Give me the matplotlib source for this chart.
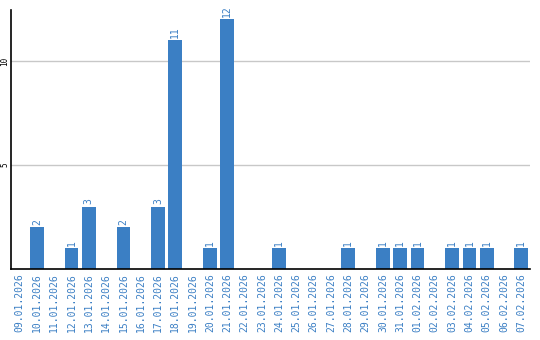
import matplotlib
matplotlib.use("Agg")
import matplotlib.pyplot as plt

dates = ["09.01.2026","10.01.2026","11.01.2026","12.01.2026","13.01.2026","14.01.2026",
         "15.01.2026","16.01.2026","17.01.2026","18.01.2026","19.01.2026","20.01.2026",
         "21.01.2026","22.01.2026","23.01.2026","24.01.2026","25.01.2026","26.01.2026",
         "27.01.2026","28.01.2026","29.01.2026","30.01.2026","31.01.2026","01.02.2026",
         "02.02.2026","03.02.2026","04.02.2026","05.02.2026","06.02.2026","07.02.2026"]
values = [0,2,0,1,3,0,2,0,3,11,0,1,12,0,0,1,0,0,0,1,0,1,1,1,0,1,1,1,0,1]

blue = "#3b7fc4"
fig = plt.figure(figsize=(5.4, 3.4), dpi=100)
ax = fig.add_axes([11/540, 71/340, 519/540, 259/340])
x = list(range(len(dates)))
ax.bar(x, values, width=0.8, color=blue, zorder=2)
for xi, v in zip(x, values):
    if v > 0:
        ax.text(xi, v + 0.12, str(v), rotation=90, ha="center", va="bottom",
                color=blue, fontsize=7, family="DejaVu Sans Mono")
ax.set_xlim(-0.5, len(dates) - 0.5)
ax.set_ylim(0, 12.45)
ax.set_xticks(x)
ax.set_xticklabels(dates, rotation=90, color=blue, fontsize=7, family="DejaVu Sans Mono")
ax.set_yticks([5, 10])
ax.set_yticklabels(["5", "10"], rotation=90, va="center", fontsize=5.5, family="DejaVu Sans Mono")
ax.tick_params(axis="x", length=0, pad=3)
ax.tick_params(axis="y", length=0, pad=1)
ax.grid(axis="y", color="#c8c8c8", linewidth=1, zorder=0)
for s in ["top", "right"]:
    ax.spines[s].set_visible(False)
for s in ["left", "bottom"]:
    ax.spines[s].set_color("black")
    ax.spines[s].set_linewidth(1.2)
fig.savefig("out.png", dpi=100)
